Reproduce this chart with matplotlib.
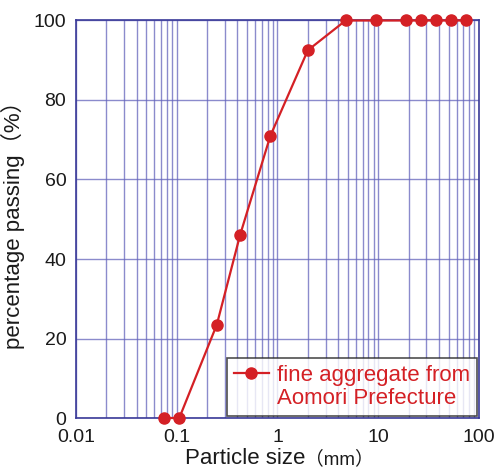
import matplotlib
matplotlib.use("Agg")
import matplotlib.pyplot as plt
from matplotlib.lines import Line2D
from matplotlib.ticker import FixedLocator, FixedFormatter, LogLocator, NullFormatter
from matplotlib.offsetbox import TextArea, HPacker, AnchoredOffsetbox

plt.rcParams['font.family'] = ['Liberation Sans', 'Noto Sans CJK JP', 'DejaVu Sans']

sizes = [0.075, 0.106, 0.25, 0.425, 0.85, 2, 4.75, 9.5, 19, 26.5, 37.5, 53, 75]
passing = [0, 0, 23.5, 46, 71, 92.5, 100, 100, 100, 100, 100, 100, 100]
series_label_1 = "fine aggregate from"
series_label_2 = "Aomori Prefecture"
xticks = [0.01, 0.1, 1, 10, 100]
xtick_labels = ["0.01", "0.1", "1", "10", "100"]
yticks = [0, 20, 40, 60, 80, 100]

red = "#d42025"
grid_c = "#6464bc"
spine_c = "#3a3a98"
txt_c = "#1a1a1a"

fig = plt.figure(figsize=(4.96, 4.71), dpi=100)
ax = fig.add_axes([0.1532, 0.1125, 0.8125, 0.844])
ax.set_xscale("log")
ax.set_xlim(0.01, 100)
ax.set_ylim(0, 100)

ax.xaxis.set_major_locator(FixedLocator(xticks))
ax.xaxis.set_major_formatter(FixedFormatter(xtick_labels))
ax.xaxis.set_minor_locator(LogLocator(base=10, subs=range(2, 10)))
ax.xaxis.set_minor_formatter(NullFormatter())
ax.set_yticks(yticks)

ax.grid(True, which="major", color=grid_c, lw=1.0, alpha=0.75)
ax.grid(True, which="minor", axis="x", color=grid_c, lw=1.0, alpha=0.75)
ax.set_axisbelow(True)

for s in ax.spines.values():
    s.set_color(spine_c)
    s.set_linewidth(1.2)

ax.tick_params(which="both", length=0, labelsize=14, colors=txt_c)
ax.tick_params(axis="y", pad=7)
ax.tick_params(axis="x", pad=8)

line, = ax.plot(sizes, passing, color=red, lw=1.6, marker="o", ms=8,
                clip_on=False, zorder=5)

# x label: "Particle size" with a smaller "（mm）"
xl = HPacker(children=[TextArea("Particle size", textprops=dict(fontsize=16, color=txt_c)),
                       TextArea("（mm）", textprops=dict(fontsize=13.5, color=txt_c))],
             align="baseline", pad=0, sep=0)
ab = AnchoredOffsetbox(loc="upper center", child=xl, frameon=False,
                       bbox_to_anchor=(0.505, -0.075), bbox_transform=ax.transAxes,
                       borderpad=0, pad=0)
ax.add_artist(ab)

ax.set_ylabel("percentage passing（%）", fontsize=16, labelpad=6, color=txt_c)

blank = Line2D([], [], color="none", marker=None)
leg = ax.legend([line, blank], [series_label_1, series_label_2],
                loc="lower right", fontsize=16, frameon=True, fancybox=False,
                borderaxespad=0.1, handlelength=1.6, handletextpad=0.35,
                borderpad=0.3, labelspacing=0.1)
leg.get_frame().set_edgecolor("#222222")
leg.get_frame().set_linewidth(1.2)
for t in leg.get_texts():
    t.set_color(red)

fig.savefig("out.png", dpi=100)
